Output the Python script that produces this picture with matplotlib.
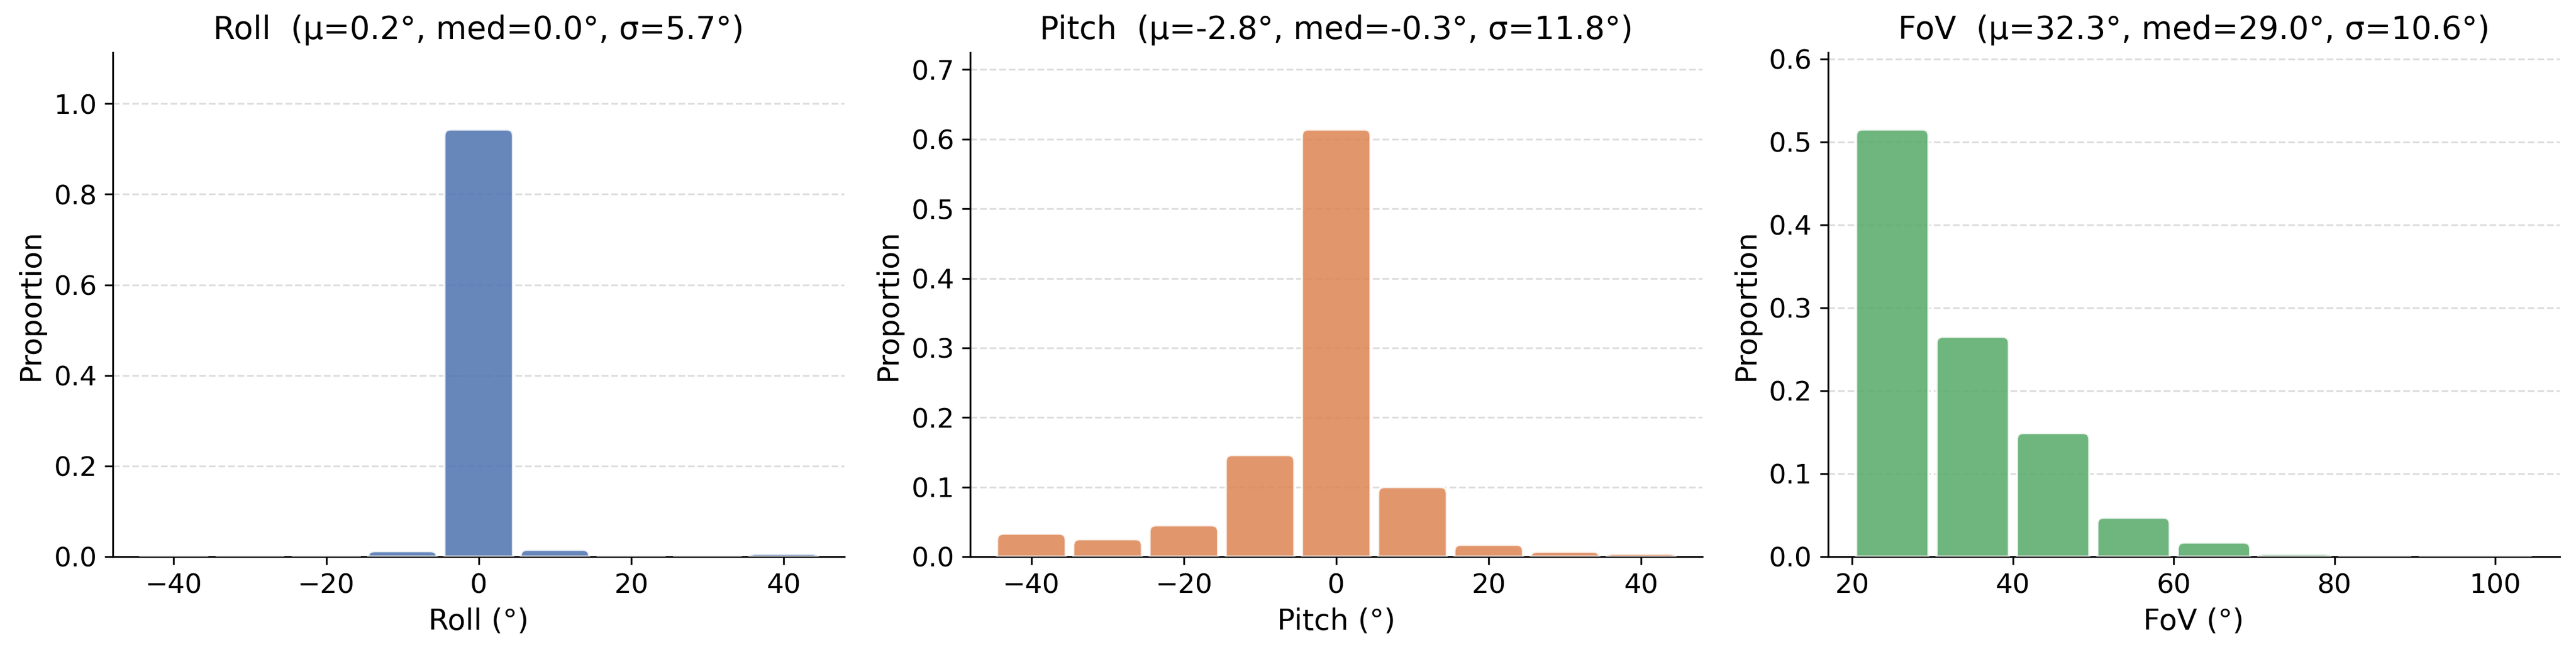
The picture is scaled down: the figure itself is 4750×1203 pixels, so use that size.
import matplotlib
matplotlib.use("Agg")
import matplotlib.pyplot as plt
from matplotlib.path import Path
from matplotlib.patches import PathPatch

# histogram data (proportions per bin)
roll_edges = [-45, -35, -25, -15, -5, 5, 15, 25, 35, 45]
roll_props = [0.001, 0.0005, 0.001, 0.012, 0.943, 0.015, 0.001, 0.0005, 0.006]

pitch_edges = [-45, -35, -25, -15, -5, 5, 15, 25, 35, 45]
pitch_props = [0.033, 0.025, 0.045, 0.146, 0.614, 0.100, 0.017, 0.007, 0.004]

fov_edges = [20, 30, 40, 50, 60, 70, 80, 90, 105]
fov_props = [0.515, 0.265, 0.149, 0.047, 0.017, 0.003, 0.0005, 0.0004]

names = ["Roll", "Pitch", "FoV"]
means = [0.2, -2.8, 32.3]
medians = [0.0, -0.3, 29.0]
stds = [5.7, 11.8, 10.6]
colors = ["#4c72b0", "#dd8452", "#55a868"]

all_edges = [roll_edges, pitch_edges, fov_edges]
all_props = [roll_props, pitch_props, fov_props]


def rounded_top(ax, rect, color, r_px=12):
    x0 = rect.get_x()
    x1 = x0 + rect.get_width()
    h = rect.get_height()
    o = ax.transData.transform((0, 0))
    px = ax.transData.transform((1, 0))[0] - o[0]
    py = ax.transData.transform((0, 1))[1] - o[1]
    rx = min(r_px / px, (x1 - x0) / 2)
    ry = min(r_px / py, h)
    verts = [(x0, 0), (x0, h - ry), (x0, h), (x0 + rx, h),
             (x1 - rx, h), (x1, h), (x1, h - ry), (x1, 0), (x0, 0)]
    codes = [Path.MOVETO, Path.LINETO, Path.CURVE3, Path.CURVE3,
             Path.LINETO, Path.CURVE3, Path.CURVE3, Path.LINETO, Path.CLOSEPOLY]
    patch = PathPatch(Path(verts, codes), facecolor=color, edgecolor="white",
                      linewidth=1.0, alpha=0.85, zorder=3)
    ax.add_patch(patch)


fig = plt.figure(figsize=(4750 / 300, 1203 / 300), dpi=300)
fig.subplots_adjust(left=208 / 4750, right=4720 / 4750, bottom=1 - 1027 / 1203,
                    top=1 - 97 / 1203, wspace=232 / 1349)
axes = fig.subplots(1, 3)

for ax, name, edges, props, c, m, md, s in zip(axes, names, all_edges, all_props,
                                                colors, means, medians, stds):
    lefts = [e + 0.5 for e in edges[:-1]]
    widths = [edges[i + 1] - edges[i] - 1 for i in range(len(edges) - 1)]
    bars = ax.bar(lefts, props, width=widths, align="edge", color=c)
    ax.set_xlim(edges[0] - 3, edges[-1] + 3)
    ax.set_ylim(0, max(props) * 1.18)
    for b in bars:
        b.set_visible(False)
        rounded_top(ax, b, c)

    ax.set_title(f"{name}  (μ={m:.1f}°, med={md:.1f}°, σ={s:.1f}°)", fontsize=14)
    ax.set_xlabel(f"{name} (°)", fontsize=13)
    ax.set_ylabel("Proportion", fontsize=13)
    ax.tick_params(labelsize=12)
    ax.grid(axis="y", linestyle="--", linewidth=0.8, color="#dddddd", zorder=0)
    ax.set_axisbelow(True)
    ax.spines["top"].set_visible(False)
    ax.spines["right"].set_visible(False)

fig.savefig("out.png", dpi=300)
